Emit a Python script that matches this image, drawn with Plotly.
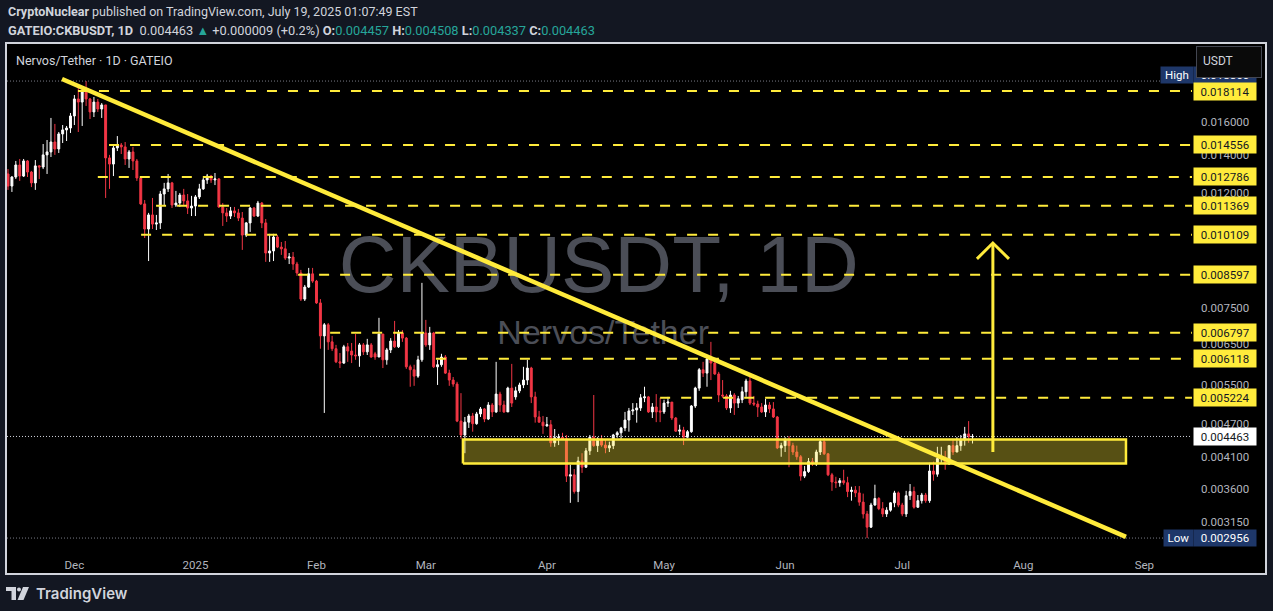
import numpy as np
import pandas as pd
import plotly.graph_objects as go

# ---- GATEIO CKB/USDT daily candles, 2024-11-14 .. 2025-07-19 ----
first_day = "2024-11-14"

opens = [
    0.01294, 0.01232, 0.01278, 0.01342, 0.01283, 0.01364, 0.01304, 0.01248, 0.01337, 0.01331,
    0.01398, 0.01415, 0.01473, 0.01432, 0.01522, 0.01547, 0.01559, 0.01637, 0.01754, 0.01732,
    0.01804, 0.01754, 0.01664, 0.01732, 0.01684, 0.01712, 0.01381, 0.01347, 0.01438, 0.01455,
    0.01444, 0.01375, 0.01415, 0.01364, 0.01273, 0.01146, 0.01035, 0.01096, 0.01056, 0.01061,
    0.01193, 0.01218, 0.01248, 0.01141, 0.01150, 0.01188, 0.01160, 0.01127, 0.01136, 0.01179,
    0.01218, 0.01263, 0.01283, 0.01263, 0.01268, 0.01132, 0.01105, 0.01091, 0.01114, 0.01105,
    0.01082, 0.01010, 0.01061, 0.01127, 0.01091, 0.01150, 0.01061, 0.00939, 0.00947, 0.01002,
    0.00962, 0.00955, 0.00920, 0.00924, 0.00898, 0.00866, 0.00779, 0.00818, 0.00863, 0.00838,
    0.00767, 0.00671, 0.00702, 0.00655, 0.00637, 0.00604, 0.00601, 0.00642, 0.00631, 0.00621,
    0.00619, 0.00647, 0.00629, 0.00647, 0.00624, 0.00616, 0.00676, 0.00609, 0.00634, 0.00657,
    0.00642, 0.00679, 0.00665, 0.00592, 0.00585, 0.00570, 0.00609, 0.00679, 0.00647, 0.00679,
    0.00592, 0.00597, 0.00616, 0.00577, 0.00561, 0.00552, 0.00475, 0.00449, 0.00473, 0.00485,
    0.00470, 0.00489, 0.00499, 0.00479, 0.00507, 0.00493, 0.00530, 0.00507, 0.00493, 0.00543,
    0.00524, 0.00537, 0.00550, 0.00561, 0.00589, 0.00524, 0.00483, 0.00473, 0.00466, 0.00468,
    0.00435, 0.00444, 0.00445, 0.00442, 0.00380, 0.00382, 0.00357, 0.00404, 0.00394, 0.00421,
    0.00445, 0.00430, 0.00442, 0.00431, 0.00426, 0.00430, 0.00449, 0.00453, 0.00462, 0.00477,
    0.00495, 0.00497, 0.00501, 0.00522, 0.00524, 0.00493, 0.00503, 0.00495, 0.00493, 0.00511,
    0.00513, 0.00481, 0.00456, 0.00458, 0.00445, 0.00455, 0.00505, 0.00543, 0.00585, 0.00577,
    0.00611, 0.00601, 0.00575, 0.00528, 0.00526, 0.00501, 0.00528, 0.00511, 0.00518, 0.00535,
    0.00559, 0.00511, 0.00509, 0.00503, 0.00493, 0.00507, 0.00499, 0.00483, 0.00426, 0.00430,
    0.00440, 0.00430, 0.00419, 0.00411, 0.00380, 0.00387, 0.00403, 0.00399, 0.00419, 0.00437,
    0.00416, 0.00382, 0.00371, 0.00370, 0.00373, 0.00370, 0.00357, 0.00359, 0.00355, 0.00342,
    0.00326, 0.00309, 0.00338, 0.00347, 0.00333, 0.00326, 0.00331, 0.00341, 0.00355, 0.00338,
    0.00326, 0.00351, 0.00357, 0.00335, 0.00344, 0.00352, 0.00344, 0.00388, 0.00383, 0.00408,
    0.00409, 0.00399, 0.00430, 0.00419, 0.00430, 0.00440, 0.00451, 0.004457,
]

highs = [
    0.01320, 0.01283, 0.01364, 0.01375, 0.01375, 0.01369, 0.01310, 0.01369, 0.01342, 0.01461,
    0.01485, 0.01624, 0.01585, 0.01534, 0.01578, 0.01572, 0.01657, 0.01782, 0.01834, 0.01849,
    0.01886, 0.01761, 0.01768, 0.01754, 0.01725, 0.01712, 0.01398, 0.01455, 0.01509, 0.01467,
    0.01473, 0.01426, 0.01444, 0.01375, 0.01278, 0.01164, 0.01105, 0.01174, 0.01096, 0.01208,
    0.01248, 0.01294, 0.01253, 0.01208, 0.01198, 0.01218, 0.01193, 0.01184, 0.01188, 0.01243,
    0.01273, 0.01294, 0.01289, 0.01299, 0.01273, 0.01150, 0.01127, 0.01132, 0.01132, 0.01123,
    0.01109, 0.01065, 0.01132, 0.01132, 0.01160, 0.01155, 0.01078, 0.01015, 0.01015, 0.01010,
    0.00982, 0.00986, 0.00939, 0.00943, 0.00906, 0.00877, 0.00825, 0.00884, 0.00884, 0.00842,
    0.00779, 0.00707, 0.00707, 0.00671, 0.00647, 0.00626, 0.00647, 0.00652, 0.00652, 0.00676,
    0.00652, 0.00652, 0.00663, 0.00652, 0.00629, 0.00722, 0.00676, 0.00639, 0.00665, 0.00713,
    0.00687, 0.00687, 0.00668, 0.00597, 0.00597, 0.00619, 0.00832, 0.00716, 0.00696, 0.00682,
    0.00609, 0.00624, 0.00621, 0.00585, 0.00568, 0.00557, 0.00532, 0.00483, 0.00489, 0.00491,
    0.00493, 0.00503, 0.00501, 0.00513, 0.00511, 0.00604, 0.00535, 0.00516, 0.00546, 0.00599,
    0.00546, 0.00555, 0.00592, 0.00609, 0.00592, 0.00535, 0.00495, 0.00485, 0.00483, 0.00477,
    0.00460, 0.00451, 0.00453, 0.00449, 0.00398, 0.00391, 0.00411, 0.00417, 0.00426, 0.00449,
    0.00528, 0.00445, 0.00449, 0.00440, 0.00437, 0.00451, 0.00456, 0.00464, 0.00493, 0.00501,
    0.00511, 0.00511, 0.00530, 0.00546, 0.00526, 0.00511, 0.00530, 0.00522, 0.00518, 0.00524,
    0.00513, 0.00483, 0.00468, 0.00464, 0.00458, 0.00507, 0.00546, 0.00589, 0.00604, 0.00614,
    0.00655, 0.00614, 0.00580, 0.00561, 0.00530, 0.00537, 0.00532, 0.00526, 0.00546, 0.00564,
    0.00577, 0.00526, 0.00516, 0.00511, 0.00520, 0.00513, 0.00513, 0.00485, 0.00435, 0.00445,
    0.00447, 0.00435, 0.00430, 0.00414, 0.00396, 0.00409, 0.00409, 0.00423, 0.00442, 0.00444,
    0.00417, 0.00385, 0.00379, 0.00377, 0.00390, 0.00379, 0.00364, 0.00365, 0.00365, 0.00354,
    0.00330, 0.00341, 0.00367, 0.00349, 0.00342, 0.00335, 0.00342, 0.00358, 0.00357, 0.00341,
    0.00358, 0.00368, 0.00364, 0.00352, 0.00355, 0.00355, 0.00401, 0.00403, 0.00428, 0.00428,
    0.00421, 0.00431, 0.00442, 0.00445, 0.00449, 0.00464, 0.00475, 0.004508,
]

lows = [
    0.01213, 0.01203, 0.01268, 0.01258, 0.01278, 0.01278, 0.01227, 0.01213, 0.01268, 0.01320,
    0.01294, 0.01386, 0.01398, 0.01409, 0.01467, 0.01479, 0.01528, 0.01578, 0.01534, 0.01572,
    0.01705, 0.01617, 0.01630, 0.01664, 0.01624, 0.01174, 0.01218, 0.01283, 0.01420, 0.01403,
    0.01342, 0.01326, 0.01315, 0.01258, 0.01141, 0.00998, 0.00909, 0.01035, 0.01031, 0.01035,
    0.01141, 0.01203, 0.01127, 0.01132, 0.01132, 0.01141, 0.01100, 0.01091, 0.01091, 0.01169,
    0.01213, 0.01243, 0.01248, 0.01237, 0.01127, 0.01048, 0.01065, 0.01078, 0.01087, 0.01069,
    0.00951, 0.01002, 0.01023, 0.01087, 0.01087, 0.01039, 0.00906, 0.00906, 0.00909, 0.00958,
    0.00932, 0.00913, 0.00898, 0.00877, 0.00856, 0.00773, 0.00773, 0.00815, 0.00832, 0.00764,
    0.00637, 0.00491, 0.00634, 0.00631, 0.00601, 0.00589, 0.00599, 0.00604, 0.00601, 0.00609,
    0.00592, 0.00621, 0.00621, 0.00614, 0.00609, 0.00616, 0.00589, 0.00597, 0.00626, 0.00639,
    0.00639, 0.00655, 0.00587, 0.00546, 0.00548, 0.00566, 0.00604, 0.00642, 0.00634, 0.00589,
    0.00550, 0.00592, 0.00575, 0.00548, 0.00546, 0.00473, 0.00442, 0.00417, 0.00462, 0.00455,
    0.00468, 0.00483, 0.00473, 0.00477, 0.00483, 0.00491, 0.00493, 0.00491, 0.00493, 0.00503,
    0.00518, 0.00532, 0.00543, 0.00550, 0.00511, 0.00472, 0.00472, 0.00451, 0.00464, 0.00428,
    0.00428, 0.00431, 0.00440, 0.00371, 0.00341, 0.00354, 0.00342, 0.00385, 0.00393, 0.00414,
    0.00428, 0.00419, 0.00428, 0.00417, 0.00419, 0.00424, 0.00444, 0.00442, 0.00456, 0.00455,
    0.00487, 0.00472, 0.00495, 0.00513, 0.00491, 0.00481, 0.00473, 0.00473, 0.00489, 0.00503,
    0.00477, 0.00455, 0.00449, 0.00431, 0.00444, 0.00453, 0.00501, 0.00537, 0.00568, 0.00546,
    0.00561, 0.00573, 0.00513, 0.00522, 0.00497, 0.00491, 0.00487, 0.00501, 0.00511, 0.00524,
    0.00507, 0.00505, 0.00483, 0.00491, 0.00483, 0.00491, 0.00481, 0.00424, 0.00411, 0.00419,
    0.00394, 0.00414, 0.00406, 0.00373, 0.00377, 0.00385, 0.00396, 0.00396, 0.00414, 0.00414,
    0.00380, 0.00358, 0.00362, 0.00364, 0.00367, 0.00349, 0.00344, 0.00349, 0.00337, 0.00320,
    0.002956, 0.00308, 0.00337, 0.00331, 0.00322, 0.00322, 0.00329, 0.00335, 0.00335, 0.00323,
    0.00322, 0.00345, 0.00333, 0.00334, 0.00340, 0.00341, 0.00341, 0.00373, 0.00379, 0.00401,
    0.00390, 0.00398, 0.00414, 0.00419, 0.00421, 0.00430, 0.00435, 0.004337,
]

closes = [
    0.01232, 0.01278, 0.01342, 0.01283, 0.01364, 0.01304, 0.01248, 0.01337, 0.01331, 0.01398,
    0.01415, 0.01473, 0.01432, 0.01522, 0.01547, 0.01559, 0.01637, 0.01754, 0.01732, 0.01804,
    0.01754, 0.01664, 0.01732, 0.01684, 0.01712, 0.01381, 0.01347, 0.01438, 0.01455, 0.01444,
    0.01375, 0.01415, 0.01364, 0.01273, 0.01146, 0.01035, 0.01096, 0.01056, 0.01061, 0.01193,
    0.01218, 0.01248, 0.01141, 0.01150, 0.01188, 0.01160, 0.01127, 0.01136, 0.01179, 0.01218,
    0.01263, 0.01283, 0.01263, 0.01268, 0.01132, 0.01105, 0.01091, 0.01114, 0.01105, 0.01082,
    0.01010, 0.01061, 0.01127, 0.01091, 0.01150, 0.01061, 0.00939, 0.00947, 0.01002, 0.00962,
    0.00955, 0.00920, 0.00924, 0.00898, 0.00866, 0.00779, 0.00818, 0.00863, 0.00838, 0.00767,
    0.00671, 0.00702, 0.00655, 0.00637, 0.00604, 0.00601, 0.00642, 0.00631, 0.00621, 0.00619,
    0.00647, 0.00629, 0.00647, 0.00616, 0.00616, 0.00676, 0.00609, 0.00634, 0.00657, 0.00642,
    0.00679, 0.00665, 0.00592, 0.00585, 0.00570, 0.00609, 0.00679, 0.00647, 0.00679, 0.00592,
    0.00597, 0.00616, 0.00577, 0.00561, 0.00552, 0.00475, 0.00449, 0.00473, 0.00485, 0.00470,
    0.00489, 0.00499, 0.00479, 0.00507, 0.00493, 0.00530, 0.00507, 0.00493, 0.00543, 0.00511,
    0.00537, 0.00550, 0.00561, 0.00589, 0.00524, 0.00483, 0.00473, 0.00466, 0.00468, 0.00435,
    0.00444, 0.00445, 0.00442, 0.00380, 0.00382, 0.00357, 0.00404, 0.00394, 0.00421, 0.00445,
    0.00430, 0.00442, 0.00431, 0.00426, 0.00430, 0.00449, 0.00453, 0.00462, 0.00477, 0.00495,
    0.00497, 0.00501, 0.00522, 0.00524, 0.00493, 0.00503, 0.00493, 0.00493, 0.00511, 0.00513,
    0.00481, 0.00456, 0.00458, 0.00445, 0.00455, 0.00505, 0.00543, 0.00585, 0.00577, 0.00611,
    0.00601, 0.00575, 0.00528, 0.00526, 0.00501, 0.00528, 0.00511, 0.00520, 0.00535, 0.00559,
    0.00511, 0.00509, 0.00503, 0.00493, 0.00507, 0.00499, 0.00483, 0.00426, 0.00430, 0.00440,
    0.00430, 0.00419, 0.00411, 0.00380, 0.00387, 0.00403, 0.00399, 0.00419, 0.00437, 0.00416,
    0.00382, 0.00371, 0.00370, 0.00373, 0.00370, 0.00357, 0.00359, 0.00355, 0.00342, 0.00326,
    0.00309, 0.00338, 0.00347, 0.00333, 0.00326, 0.00331, 0.00341, 0.00355, 0.00338, 0.00326,
    0.00351, 0.00357, 0.00335, 0.00344, 0.00352, 0.00344, 0.00388, 0.00383, 0.00408, 0.00409,
    0.00399, 0.00430, 0.00419, 0.00430, 0.00440, 0.00451, 0.004457, 0.004463,
]

days = pd.date_range(first_day, periods=len(closes), freq="D")

# horizontal resistance levels and where each one begins
level_prices = [0.018114, 0.014556, 0.012786, 0.011369, 0.010109,
                0.008597, 0.006797, 0.006118, 0.005224]
level_starts = ["2024-12-01 22:00", "2024-12-09 21:00", "2024-12-07 00:00",
                "2024-12-21 22:00", "2024-12-18 02:00", "2025-01-27 07:00",
                "2025-02-04 12:00", "2025-03-03 14:00", "2025-04-30 00:00"]

# descending trendline
trend_x = ["2024-11-27 20:00", "2025-08-27 07:00"]
trend_y = [0.01902, 0.002971]

# breakout / support zone
zone_x = ["2025-03-10 12:00", "2025-08-27 07:00"]
zone_y = [0.00400, 0.00441]

# upside target arrow
arrow_x = "2025-07-24 05:00"
arrow_wing_x = ["2025-07-20 03:00", "2025-07-28 08:00"]
arrow_base, arrow_tip, arrow_wing = 0.00419, 0.00978, 0.00917

last_price = 0.004463
period_high = 0.01886
period_low = 0.002956

month_ticks = ["2024-12-01", "2025-01-01", "2025-02-01", "2025-03-01", "2025-04-01",
               "2025-05-01", "2025-06-01", "2025-07-01", "2025-08-01", "2025-09-01"]
month_labels = ["Dec", "2025", "Feb", "Mar", "Apr", "May", "Jun", "Jul", "Aug", "Sep"]
price_ticks = [0.00315, 0.0036, 0.0041, 0.0047, 0.0055, 0.0065, 0.0075, 0.012, 0.014, 0.016]

# ---- page geometry (pixels) ----
W, H = 1273, 611
PL, PR, PT, PB = 7, 1192, 44, 548
X_RANGE = ["2024-11-13 17:51", "2025-09-13 04:48"]
Y_RANGE = [-2.5468, -1.6592]


def px(x):
    return (x - PL) / (PR - PL)


def py(y):
    return (PB - y) / (PB - PT)


YELLOW = "#FFEB3B"
UP = "#FFFFFF"
DOWN = "#F23645"
AXIS_TXT = "#B2B5BE"
NAVY = "#1E3769"
FONT = "Roboto"

fig = go.Figure()

# watermark behind everything
fig.add_trace(go.Scatter(
    x=["2025-04-14 07:00"], y=[0.00870], mode="text", text=["CKBUSDT, 1D"],
    textfont=dict(family="Liberation Sans", size=80, color="#4B4E57"),
    textposition="middle center", hoverinfo="skip", showlegend=False))
fig.add_trace(go.Scatter(
    x=["2025-04-15 10:00"], y=[0.00671], mode="text", text=["Nervos/Tether"],
    textfont=dict(family="Liberation Sans", size=34, color="#4B4E57"),
    textposition="middle center", hoverinfo="skip", showlegend=False))

# reference dotted lines: period high / low and last price
for price, col in [(period_high, "#787B86"), (period_low, "#787B86"), (last_price, "#D1D4DC")]:
    fig.add_trace(go.Scatter(
        x=X_RANGE, y=[price, price], mode="lines",
        line=dict(color=col, width=1, dash="1px,2px"),
        hoverinfo="skip", showlegend=False))

# support zone
fig.add_trace(go.Scatter(
    x=[zone_x[0], zone_x[1], zone_x[1], zone_x[0], zone_x[0]],
    y=[zone_y[0], zone_y[0], zone_y[1], zone_y[1], zone_y[0]],
    mode="lines", fill="toself", fillcolor="rgba(255,235,59,0.34)",
    line=dict(color=YELLOW, width=2.5), hoverinfo="skip", showlegend=False))

# candles
fig.add_trace(go.Candlestick(
    x=days, open=opens, high=highs, low=lows, close=closes,
    increasing=dict(line=dict(color=UP, width=1), fillcolor=UP),
    decreasing=dict(line=dict(color=DOWN, width=1), fillcolor=DOWN),
    whiskerwidth=0, hoverinfo="skip", showlegend=False))

# dashed resistance levels
lx, ly = [], []
for start, price in zip(level_starts, level_prices):
    lx += [start, X_RANGE[1], None]
    ly += [price, price, None]
fig.add_trace(go.Scatter(
    x=lx, y=ly, mode="lines", line=dict(color=YELLOW, width=2, dash="10px,11px"),
    hoverinfo="skip", showlegend=False))

# descending trendline
fig.add_trace(go.Scatter(
    x=trend_x, y=trend_y, mode="lines", line=dict(color=YELLOW, width=4.5),
    hoverinfo="skip", showlegend=False))

# target arrow
fig.add_trace(go.Scatter(
    x=[arrow_x, arrow_x, None, arrow_wing_x[0], arrow_x, arrow_wing_x[1]],
    y=[arrow_base, arrow_tip, None, arrow_wing, arrow_tip, arrow_wing],
    mode="lines", line=dict(color=YELLOW, width=3),
    hoverinfo="skip", showlegend=False))

annotations = []


def level_label(price):
    return dict(
        x=px(1193), xref="paper", xanchor="left",
        y=np.log10(price), yref="y", yanchor="middle",
        text=f"{price:.6f}", showarrow=False, bgcolor=YELLOW,
        font=dict(family=FONT, size=11.5, color="#131722"),
        width=58, height=13, borderpad=2, align="center")


# price-scale labels for the levels (the top one is added last, over the high box)
for price in level_prices[1:]:
    annotations.append(level_label(price))

# last price label
annotations.append(dict(
    x=px(1193), xref="paper", xanchor="left",
    y=np.log10(last_price), yref="y", yanchor="middle",
    text=f"{last_price:.6f}", showarrow=False, bgcolor="#FFFFFF",
    font=dict(family=FONT, size=11.5, color="#131722"),
    width=58, height=13, borderpad=2, align="center"))

# high label (value box partly covered by the currency button)
annotations.append(dict(
    x=px(1160), xref="paper", xanchor="left", y=py(75), yref="paper", yanchor="middle",
    text="High", showarrow=False, bgcolor=NAVY,
    font=dict(family=FONT, size=11.5, color="#FFFFFF"),
    width=28, height=12, borderpad=2))
annotations.append(dict(
    x=px(1193), xref="paper", xanchor="left", y=py(75), yref="paper", yanchor="middle",
    text=f"{period_high:.6f}", showarrow=False, bgcolor=NAVY,
    font=dict(family=FONT, size=11.5, color="#FFFFFF"),
    width=58, height=12, borderpad=2))

# currency button
annotations.append(dict(
    x=px(1229), xref="paper", xanchor="center", y=py(62), yref="paper", yanchor="middle",
    text=" ", showarrow=False, bgcolor="#0A0A0A", bordercolor="#434651", borderwidth=1,
    width=62, height=28, borderpad=1))
annotations.append(dict(
    x=px(1218), xref="paper", xanchor="center", y=py(61), yref="paper", yanchor="middle",
    text="USDT", showarrow=False, font=dict(family=FONT, size=12, color="#D1D4DC")))

# low label
annotations.append(dict(
    x=px(1163), xref="paper", xanchor="left",
    y=np.log10(period_low), yref="y", yanchor="middle",
    text="Low", showarrow=False, bgcolor=NAVY,
    font=dict(family=FONT, size=11.5, color="#FFFFFF"),
    width=25, height=12, borderpad=2))
annotations.append(dict(
    x=px(1193), xref="paper", xanchor="left",
    y=np.log10(period_low), yref="y", yanchor="middle",
    text=f"{period_low:.6f}", showarrow=False, bgcolor=NAVY,
    font=dict(family=FONT, size=11.5, color="#FFFFFF"),
    width=58, height=12, borderpad=2))

# the 0.018114 label sits on top of the high value box
annotations.append(level_label(level_prices[0]))

# pane title
annotations.append(dict(
    x=px(14), xref="paper", xanchor="left", y=py(60), yref="paper", yanchor="middle",
    text="Nervos/Tether · 1D · GATEIO", showarrow=False,
    font=dict(family=FONT, size=12.5, color="#D1D4DC")))

# header lines
TEAL = "#26A69A"
annotations.append(dict(
    x=px(6), xref="paper", xanchor="left", y=py(11), yref="paper", yanchor="middle",
    text="<b>CryptoNuclear</b> published on TradingView.com, July 19, 2025 01:07:49 EST",
    showarrow=False, font=dict(family=FONT, size=12.5, color="#D1D4DC")))
annotations.append(dict(
    x=px(6), xref="paper", xanchor="left", y=py(30), yref="paper", yanchor="middle",
    text=("<b>GATEIO:CKBUSDT, 1D</b>  0.004463 "
          f"<span style='color:{TEAL}'>▲</span> +0.000009 (+0.2%) "
          f"<b>O:</b><span style='color:{TEAL}'>0.004457</span> "
          f"<b>H:</b><span style='color:{TEAL}'>0.004508</span> "
          f"<b>L:</b><span style='color:{TEAL}'>0.004337</span> "
          f"<b>C:</b><span style='color:{TEAL}'>0.004463</span>"),
    showarrow=False, font=dict(family=FONT, size=12.8, color="#D1D4DC")))

# footer wordmark
annotations.append(dict(
    x=px(34), xref="paper", xanchor="left", y=py(593), yref="paper", yanchor="middle",
    text="TradingView", showarrow=False,
    font=dict(family="Inter", size=15, color="#D1D4DC", weight=600)))

shapes = [
    # chart frame (pane + scales)
    dict(type="rect", xref="paper", yref="paper", layer="below",
         x0=px(6), x1=px(1266), y0=py(574), y1=py(43),
         fillcolor="#000000", line=dict(color="#D1D4DC", width=2)),
    # footer logo: bar + stem, dot, slanted stroke
    dict(type="path", xref="paper", yref="paper", layer="above",
         path=(f"M {px(6)},{py(587)} L {px(16)},{py(587)} L {px(16)},{py(600)} "
               f"L {px(11.5)},{py(600)} L {px(11.5)},{py(591)} L {px(6)},{py(591)} Z"),
         fillcolor="#D1D4DC", line=dict(width=0)),
    dict(type="circle", xref="paper", yref="paper", layer="above",
         x0=px(17), x1=px(21), y0=py(591.5), y1=py(587.5),
         fillcolor="#D1D4DC", line=dict(width=0)),
    dict(type="path", xref="paper", yref="paper", layer="above",
         path=(f"M {px(23)},{py(587)} L {px(29)},{py(587)} L {px(23.5)},{py(600)} "
               f"L {px(17.5)},{py(600)} Z"),
         fillcolor="#D1D4DC", line=dict(width=0)),
]

fig.update_layout(
    width=W, height=H,
    margin=dict(l=PL, r=W - PR, t=PT, b=H - PB, pad=0),
    paper_bgcolor="#131722", plot_bgcolor="#000000",
    showlegend=False, hovermode=False,
    annotations=annotations, shapes=shapes,
    xaxis=dict(type="date", range=X_RANGE, rangeslider=dict(visible=False),
               tickvals=month_ticks, ticktext=month_labels,
               showgrid=False, zeroline=False, showline=False, ticks="",
               tickfont=dict(family=FONT, size=11.5, color=AXIS_TXT),
               ticklabelstandoff=8),
    yaxis=dict(type="log", range=Y_RANGE, side="right",
               tickvals=price_ticks, ticktext=[f"{v:.6f}" for v in price_ticks],
               showgrid=False, zeroline=False, showline=False, ticks="",
               tickfont=dict(family=FONT, size=11.5, color=AXIS_TXT),
               ticklabelstandoff=8),
)

fig.write_html("out.html", config={"displayModeBar": False})
